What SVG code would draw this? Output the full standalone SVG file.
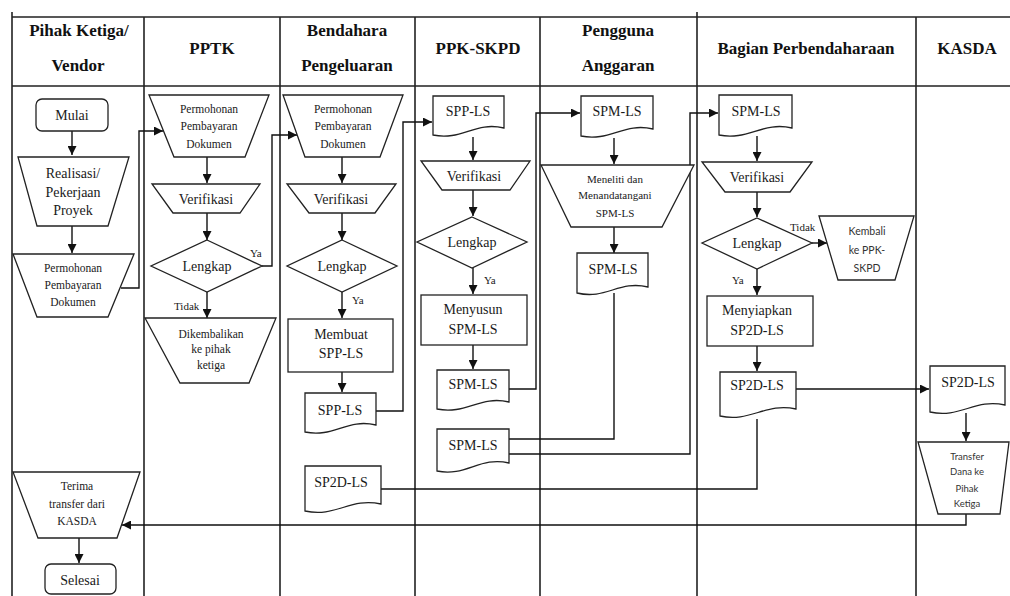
<svg xmlns="http://www.w3.org/2000/svg" width="1010" height="596" viewBox="0 0 1010 596">
<style>
.lane{stroke:#222;stroke-width:1.6;fill:none}
.hdr{font-family:"Liberation Serif",serif;font-weight:bold;font-size:17px;text-anchor:middle;fill:#111}
.n{fill:#fff;stroke:#222;stroke-width:1.3}
.t{font-family:"Liberation Serif",serif;font-size:14px;text-anchor:middle;fill:#1a1a1a}
.s{font-size:11.5px}
.m{font-size:11px}
.l{font-family:"Liberation Serif",serif;font-size:11px;fill:#1a1a1a}
.sans{font-family:Lato,"Liberation Sans",sans-serif;font-size:10.5px;text-anchor:middle;fill:#333}
.xs{font-size:9.5px}
.c{stroke:#111;stroke-width:1.4;fill:none}
.a{marker-end:url(#ah)}
</style>
<defs>
<marker id="ah" viewBox="0 0 10 10" refX="10" refY="5" markerWidth="9" markerHeight="9" markerUnits="userSpaceOnUse" orient="auto">
<path d="M0,0 L10,5 L0,10 Z" fill="#111"/>
</marker>
</defs>
<rect width="1010" height="596" fill="#fff"/>
<g id="lanes">
<path class="lane" d="M12,17 H1010 M12,86 H1010"/>
<path class="lane" d="M12,12 V596 M144,17 V596 M280,17 V596 M415,17 V596 M540,17 V596 M697,12 V596 M916,17 V596"/>
<text class="hdr" x="79" y="36">Pihak Ketiga/</text>
<text class="hdr" x="78" y="71">Vendor</text>
<text class="hdr" x="212" y="54">PPTK</text>
<text class="hdr" x="347" y="36">Bendahara</text>
<text class="hdr" x="347" y="71">Pengeluaran</text>
<text class="hdr" x="478" y="54">PPK-SKPD</text>
<text class="hdr" x="618" y="36">Pengguna</text>
<text class="hdr" x="618" y="71">Anggaran</text>
<text class="hdr" x="806" y="54">Bagian Perbendaharaan</text>
<text class="hdr" x="967" y="54">KASDA</text>
</g>
<g id="connectors">
<path class="c a" d="M72,131 V155"/>
<path class="c a" d="M72,226 V253"/>
<path class="c a" d="M121,288 H139 V131 H163"/>
<path class="c a" d="M207,157 V183"/>
<path class="c a" d="M207,213 V240"/>
<path class="c a" d="M262,266 H272 V135 H297"/>
<path class="c a" d="M207,292 V318"/>
<path class="c a" d="M342,157 V183"/>
<path class="c a" d="M342,213 V240"/>
<path class="c a" d="M342,292 V318"/>
<path class="c a" d="M342,372 V392"/>
<path class="c a" d="M376,411 H403 V122 H432"/>
<path class="c" d="M757,419 V489 H381"/>
<path class="c a" d="M473,137 V160"/>
<path class="c a" d="M473,190 V216"/>
<path class="c a" d="M473,268 V294"/>
<path class="c a" d="M473,345 V369"/>
<path class="c a" d="M509,389 H536 V113 H580"/>
<path class="c" d="M614,293 V439 H509"/>
<path class="c a" d="M509,454 H690 V113 H718"/>
<path class="c a" d="M614,138 V164"/>
<path class="c a" d="M614,227 V253"/>
<path class="c a" d="M757,136 V161"/>
<path class="c a" d="M757,192 V217"/>
<path class="c a" d="M812,243 H827"/>
<path class="c a" d="M757,269 V295"/>
<path class="c a" d="M757,346 V371"/>
<path class="c a" d="M796,389 H929"/>
<path class="c a" d="M966,413 V441"/>
<path class="c a" d="M966,514 V525 H122"/>
<path class="c a" d="M79,538 V563"/>
<text class="l" x="250" y="257">Ya</text>
<text class="l" x="174" y="310">Tidak</text>
<text class="l" x="352" y="304">Ya</text>
<text class="l" x="484" y="284">Ya</text>
<text class="l" x="790" y="231">Tidak</text>
<text class="l" x="732" y="284">Ya</text>
</g>
<g id="mulai">
<rect class="n" x="36" y="99" width="72" height="32" rx="6"/>
<text class="t" x="72" y="120">Mulai</text>
</g>
<g id="realisasi">
<polygon class="n" points="18,157 129,157 108,226 37,226"/>
<text class="t" x="73" y="178">Realisasi/</text>
<text class="t" x="73" y="197">Pekerjaan</text>
<text class="t" x="73" y="215">Proyek</text>
</g>
<g id="permohonan-vendor">
<polygon class="n" points="13,254 134,254 108,317 37,317"/>
<text class="t s" x="73" y="272">Permohonan</text>
<text class="t s" x="73" y="289">Pembayaran</text>
<text class="t s" x="73" y="306">Dokumen</text>
</g>
<g id="permohonan-pptk">
<polygon class="n" points="149,95 269,95 245,157 174,157"/>
<text class="t s" x="209" y="113">Permohonan</text>
<text class="t s" x="209" y="130">Pembayaran</text>
<text class="t s" x="209" y="148">Dokumen</text>
</g>
<g id="verifikasi-pptk">
<polygon class="n" points="152,184 260,184 240,213 173,213"/>
<text class="t" x="206" y="204">Verifikasi</text>
</g>
<g id="lengkap-pptk">
<polygon class="n" points="207,240 262,266 207,292 151,266"/>
<text class="t" x="207" y="271">Lengkap</text>
</g>
<g id="dikembalikan">
<polygon class="n" points="145,318 276,318 249,383 180,383"/>
<text class="t s" x="211" y="338">Dikembalikan</text>
<text class="t s" x="211" y="353">ke pihak</text>
<text class="t s" x="211" y="369">ketiga</text>
</g>
<g id="permohonan-bendahara">
<polygon class="n" points="283,95 403,95 380,157 305,157"/>
<text class="t s" x="343" y="113">Permohonan</text>
<text class="t s" x="343" y="130">Pembayaran</text>
<text class="t s" x="343" y="148">Dokumen</text>
</g>
<g id="verifikasi-bendahara">
<polygon class="n" points="287,184 396,184 375,213 309,213"/>
<text class="t" x="341" y="204">Verifikasi</text>
</g>
<g id="lengkap-bendahara">
<polygon class="n" points="342,240 397,266 342,292 287,266"/>
<text class="t" x="342" y="271">Lengkap</text>
</g>
<g id="membuat-spp">
<rect class="n" x="288" y="319" width="105" height="53"/>
<text class="t" x="341" y="339">Membuat</text>
<text class="t" x="341" y="358">SPP-LS</text>
</g>
<g id="spp-bendahara">
<path class="n" d="M305,393 H376 V425 C347,418 334,438 305,432 Z"/>
<text class="t" x="340" y="415">SPP-LS</text>
</g>
<g id="sp2d-bendahara">
<path class="n" d="M305,466 H381 V504 C350,497 336,518 305,511 Z"/>
<text class="t" x="341" y="487">SP2D-LS</text>
</g>
<g id="spp-ppk">
<path class="n" d="M433,96 H504 V128 C475,121 462,141 433,135 Z"/>
<text class="t" x="468" y="116">SPP-LS</text>
</g>
<g id="verifikasi-ppk">
<polygon class="n" points="421,161 530,161 510,190 442,190"/>
<text class="t" x="474" y="181">Verifikasi</text>
</g>
<g id="lengkap-ppk">
<polygon class="n" points="472,217 527,242 472,268 417,242"/>
<text class="t" x="472" y="247">Lengkap</text>
</g>
<g id="menyusun-spm">
<rect class="n" x="421" y="295" width="106" height="50"/>
<text class="t" x="473" y="314">Menyusun</text>
<text class="t" x="473" y="334">SPM-LS</text>
</g>
<g id="spm-ppk-1">
<path class="n" d="M437,370 H509 V402 C480,395 466,415 437,409 Z"/>
<text class="t" x="473" y="389">SPM-LS</text>
</g>
<g id="spm-ppk-2">
<path class="n" d="M437,429 H509 V463 C480,456 466,477 437,471 Z"/>
<text class="t" x="473" y="450">SPM-LS</text>
</g>
<g id="spm-pengguna-1">
<path class="n" d="M581,96 H653 V129 C624,122 610,142 581,136 Z"/>
<text class="t" x="617" y="116">SPM-LS</text>
</g>
<g id="meneliti">
<polygon class="n" points="541,165 694,165 662,227 571,227"/>
<text class="t m" x="615" y="183">Meneliti dan</text>
<text class="t m" x="615" y="199">Menandatangani</text>
<text class="t m" x="615" y="217">SPM-LS</text>
</g>
<g id="spm-pengguna-2">
<path class="n" d="M577,253 H648 V287 C619,280 606,300 577,293 Z"/>
<text class="t" x="613" y="274">SPM-LS</text>
</g>
<g id="spm-bagian">
<path class="n" d="M719,95 H792 V128 C763,121 748,141 719,135 Z"/>
<text class="t" x="756" y="116">SPM-LS</text>
</g>
<g id="verifikasi-bagian">
<polygon class="n" points="702,162 812,162 790,192 725,192"/>
<text class="t" x="757" y="182">Verifikasi</text>
</g>
<g id="lengkap-bagian">
<polygon class="n" points="757,218 812,243 757,269 702,243"/>
<text class="t" x="757" y="248">Lengkap</text>
</g>
<g id="kembali">
<polygon class="n" points="819,216 914,216 895,280 838,280"/>
<text class="sans" x="867" y="235">Kembali</text>
<text class="sans" x="867" y="254">ke PPK-</text>
<text class="sans" x="867" y="272">SKPD</text>
</g>
<g id="menyiapkan">
<rect class="n" x="707" y="296" width="106" height="50"/>
<text class="t" x="757" y="315">Menyiapkan</text>
<text class="t" x="757" y="335">SP2D-LS</text>
</g>
<g id="sp2d-bagian">
<path class="n" d="M720,372 H796 V409 C766,402 750,423 720,416 Z"/>
<text class="t" x="757" y="390">SP2D-LS</text>
</g>
<g id="sp2d-kasda">
<path class="n" d="M930,366 H1005 V405 C975,398 960,419 930,412 Z"/>
<text class="t" x="968" y="387">SP2D-LS</text>
</g>
<g id="transfer">
<polygon class="n" points="918,442 1009,442 1000,514 938,514"/>
<text class="sans xs" x="967" y="460">Transfer</text>
<text class="sans xs" x="967" y="475">Dana ke</text>
<text class="sans xs" x="967" y="492">Pihak</text>
<text class="sans xs" x="967" y="507">Ketiga</text>
</g>
<g id="terima">
<polygon class="n" points="13,472 140,472 117,538 38,538"/>
<text class="t s" x="77" y="490">Terima</text>
<text class="t s" x="77" y="508">transfer dari</text>
<text class="t s" x="77" y="525">KASDA</text>
</g>
<g id="selesai">
<rect class="n" x="45" y="564" width="71" height="30" rx="6"/>
<text class="t" x="80" y="585">Selesai</text>
</g>
</svg>
